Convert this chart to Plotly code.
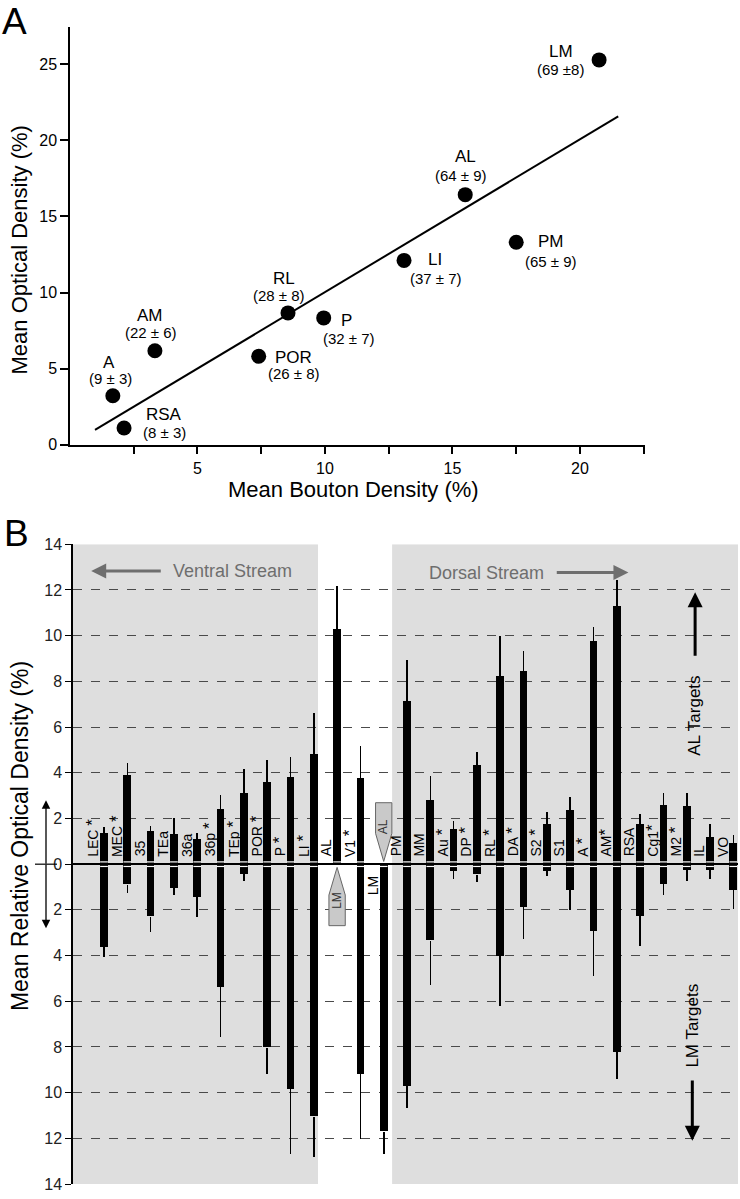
import plotly.graph_objects as go

# ---------------- Panel A data ----------------
areas_a = ["LM", "AL", "PM", "LI", "RL", "P", "POR", "AM", "A", "RSA"]
bouton_density = [20.75, 15.5, 17.5, 13.1, 8.55, 9.95, 7.4, 3.33, 1.68, 2.12]
optical_density = [25.28, 16.43, 13.3, 12.11, 8.66, 8.33, 5.81, 6.17, 3.22, 1.1]
neuron_counts = ["(69 ±8)", "(64 ± 9)", "(65 ± 9)", "(37 ± 7)", "(28 ± 8)",
                 "(32 ± 7)", "(26 ± 8)", "(22 ± 6)", "(9 ± 3)", "(8 ± 3)"]
fit_x = [0.98, 21.5]
fit_y = [0.97, 21.57]
a_xtick_vals = [2.5, 5, 7.5, 10, 12.5, 15, 17.5, 20, 22.5]
a_xtick_text = ["", "5", "", "10", "", "15", "", "20", ""]
a_ytick_vals = [0, 5, 10, 15, 20, 25]

# ---------------- Panel B data ----------------
regions = ["LEC *", "MEC *", "35", "TEa", "36a", "36p *", "TEp *", "POR *", "P *", "LI *",
           "AL", "V1 *", "LM", "PM", "MM", "Au *", "DP *", "RL *", "DA *", "S2 *",
           "S1", "A *", "AM*", "RSA", "Cg1*", "M2 *", "IL", "VO"]
al_targets = [1.35, 3.88, 1.42, 1.30, 1.10, 2.39, 3.12, 3.57, 3.81, 4.81,
              10.26, 3.75, None, 7.12, 2.81, 1.54, 4.31, 8.21, 8.46, 1.76,
              2.36, 9.76, 11.27, 1.76, 2.58, 2.52, 1.18, 0.90]
al_sem = [0.28, 0.57, 0.25, 0.70, 0.25, 0.64, 1.05, 0.97, 0.87, 1.79,
          1.92, 1.44, 0, 1.81, 1.04, 0.33, 0.62, 1.76, 0.86, 0.54,
          0.58, 0.64, 1.15, 0.42, 0.54, 0.59, 0.58, 0.36]
lm_targets = [3.63, 0.89, 2.29, 1.04, 1.44, 5.39, 0.42, 8.03, 9.83, 11.05,
              None, 9.18, 11.70, 9.71, 3.34, 0.32, 0.46, 4.03, 1.87, 0.29,
              1.14, 2.94, 8.21, 2.26, 0.86, 0.27, 0.27, 1.14]
lm_sem = [0.43, 0.36, 0.69, 0.33, 0.89, 2.17, 0.33, 1.17, 2.87, 1.77,
          0, 2.85, 1.00, 0.95, 1.95, 0.31, 0.32, 2.19, 1.40, 0.24,
          0.86, 1.94, 1.21, 1.34, 0.49, 0.45, 0.36, 0.83]
b_ytick_vals = list(range(-14, 15, 2))
b_ytick_text = [str(abs(v)) for v in b_ytick_vals]

REG = "Liberation Sans, Arial, Helvetica, sans-serif"
W, H = 740, 1199

fig = go.Figure()

# ---- Panel A traces
fig.add_trace(go.Scatter(x=fit_x, y=fit_y, mode="lines", line=dict(color="black", width=2),
                         xaxis="x", yaxis="y", showlegend=False, hoverinfo="skip"))
fig.add_trace(go.Scatter(x=bouton_density, y=optical_density, mode="markers",
                         marker=dict(size=15, color="black"), xaxis="x", yaxis="y",
                         showlegend=False, text=areas_a))

# ---- Panel B traces
pos = list(range(len(regions)))
BW = 0.33
fig.add_trace(go.Bar(x=pos, y=al_targets, width=BW, marker=dict(color="black", line=dict(width=0)),
                     error_y=dict(type="data", symmetric=False, array=al_sem,
                                  arrayminus=[0] * len(pos), color="black", thickness=1.6, width=0),
                     xaxis="x2", yaxis="y2", showlegend=False))
fig.add_trace(go.Bar(x=pos, y=[(-v if v is not None else None) for v in lm_targets], width=BW,
                     marker=dict(color="black", line=dict(width=0)),
                     error_y=dict(type="data", symmetric=False, array=[0] * len(pos),
                                  arrayminus=lm_sem, color="black", thickness=1.6, width=0),
                     xaxis="x2", yaxis="y2", showlegend=False))

# ---- layout
xA = [70 / W, 645 / W]
yA = [1 - 443 / H, 1 - 19 / H]
xB = [73 / W, 738 / W]
yB = [1 - 1193 / H, 1 - 544 / H]
xB_range = [-1.33, 27.2]

fig.update_layout(
    width=W, height=H, margin=dict(l=0, r=0, t=0, b=0),
    paper_bgcolor="white", plot_bgcolor="rgba(0,0,0,0)",
    barmode="overlay", bargap=0,
    xaxis=dict(domain=xA, range=[0, 22.55], anchor="y", showgrid=False, zeroline=False,
               showline=True, linecolor="black", linewidth=1.5, ticks="outside", ticklen=8,
               tickwidth=1.5, tickcolor="black", tickvals=a_xtick_vals, ticktext=a_xtick_text,
               tickfont=dict(family=REG, size=16, color="black")),
    yaxis=dict(domain=yA, range=[0, 27.46], anchor="x", showgrid=False, zeroline=False,
               showline=True, linecolor="black", linewidth=1.5, ticks="outside", ticklen=8,
               tickwidth=1.5, tickcolor="black", tickvals=a_ytick_vals,
               tickfont=dict(family=REG, size=16, color="black")),
    xaxis2=dict(domain=xB, range=xB_range, anchor="y2", showgrid=False, zeroline=False,
                showline=False, showticklabels=False, ticks=""),
    yaxis2=dict(domain=yB, range=[-14, 14], anchor="x2", showgrid=True, griddash="dash",
                gridcolor="#4a4a4a", gridwidth=1, zeroline=True, zerolinecolor="black",
                zerolinewidth=1.6, showline=True, linecolor="black", linewidth=1.5,
                ticks="outside", ticklen=6, tickwidth=1.2, tickcolor="black",
                tickvals=b_ytick_vals, ticktext=b_ytick_text,
                tickfont=dict(family=REG, size=16, color="#222")),
)

shapes = []
# grey background bands (ventral / dorsal)
shapes.append(dict(type="rect", xref="x2", yref="y2", x0=xB_range[0], x1=9.18, y0=-14, y1=14,
                   fillcolor="#dedede", line=dict(width=0), layer="below"))
shapes.append(dict(type="rect", xref="x2", yref="y2", x0=12.36, x1=xB_range[1], y0=-14, y1=14,
                   fillcolor="#dedede", line=dict(width=0), layer="below"))
# small white notches where bars cross the zero line
for i, (u, d) in enumerate(zip(al_targets, lm_targets)):
    for yy, v in ((0.1, u), (-0.1, d)):
        if v is not None:
            shapes.append(dict(type="line", xref="x2", yref="y2", x0=i - BW / 2, x1=i + BW / 2,
                               y0=yy, y1=yy, line=dict(color="white", width=1.2), layer="above"))
# injection-site arrows
shapes.append(dict(type="path", xref="x2", yref="y2",
                   path="M 11.65,2.69 L 12.35,2.69 L 12.35,1.35 L 12,0.12 L 11.65,1.35 Z",
                   fillcolor="#c9c9c9", line=dict(color="#666", width=1)))
shapes.append(dict(type="path", xref="x2", yref="y2",
                   path="M 9.65,-2.69 L 10.35,-2.69 L 10.35,-1.35 L 10,-0.14 L 9.65,-1.35 Z",
                   fillcolor="#c9c9c9", line=dict(color="#666", width=1)))
# left double-arrow crossbar
shapes.append(dict(type="line", xref="paper", yref="y2", x0=35 / W, x1=57 / W, y0=0, y1=0,
                   line=dict(color="black", width=1.2)))
fig.update_layout(shapes=shapes)

ann = []
# Panel letters
ann.append(dict(text="A", x=0, y=1 - 14 / H, xref="paper", yref="paper", xanchor="left",
                yanchor="middle", showarrow=False, font=dict(family=REG, size=37, color="black")))
ann.append(dict(text="B", x=2 / W, y=1 - 533 / H, xref="paper", yref="paper", xanchor="left",
                yanchor="middle", showarrow=False, font=dict(family=REG, size=37, color="black")))
# Panel A titles
ann.append(dict(text="Mean Optical Density (%)", x=20 / W, y=1 - 246 / H, xref="paper",
                yref="paper", xanchor="center", yanchor="middle", textangle=-90,
                showarrow=False, font=dict(family=REG, size=22, color="black")))
ann.append(dict(text="Mean Bouton Density (%)", x=353 / W, y=1 - 488 / H, xref="paper",
                yref="paper", xanchor="center", yanchor="middle", showarrow=False,
                font=dict(family=REG, size=22, color="black")))
# Panel A point labels (pixel offsets of name and count from the dot)
label_offsets = {
    "LM": ((-38, 8), (-39, -10)), "AL": ((0, 38), (-4, 19)), "PM": ((35, 1), (35, -19)),
    "LI": ((31, 1), (32, -18)), "RL": ((-4, 34), (-9, 17)), "P": ((23, -3), (25, -21)),
    "POR": ((35, -1), (35, -17)), "AM": ((-5, 35), (-4, 18)), "A": ((-4, 33), (-2, 17)),
    "RSA": ((40, 13), (40, -5)),
}
for name, bx, oy, cnt in zip(areas_a, bouton_density, optical_density, neuron_counts):
    (nx, ny), (cx, cy) = label_offsets[name]
    ann.append(dict(text=name, x=bx, y=oy, xref="x", yref="y", xshift=nx, yshift=ny,
                    showarrow=False, font=dict(family=REG, size=17, color="black")))
    ann.append(dict(text=cnt, x=bx, y=oy, xref="x", yref="y", xshift=cx, yshift=cy,
                    showarrow=False, font=dict(family=REG, size=15, color="black")))

# Panel B title
ann.append(dict(text="Mean Relative Optical Density (%)", x=20 / W, y=1 - 840 / H,
                xref="paper", yref="paper", xanchor="center", yanchor="middle", textangle=-90,
                showarrow=False, font=dict(family=REG, size=23, color="black")))
# double arrow on the left
for tip, off in ((2.8, 65), (-2.8, -65)):
    ann.append(dict(text="", x=46 / W, y=tip, xref="paper", yref="y2", ax=0, ay=off,
                    showarrow=True, arrowhead=2, arrowsize=1.3, arrowwidth=1.3,
                    arrowcolor="black"))
# region labels (asterisk drawn a little larger, as in the original figure)
STAR = "<span style='font-size:17px'>*</span>"
for i, lab in enumerate(regions):
    txt = lab.replace("*", STAR)
    if lab == "LM":
        ann.append(dict(text=txt, x=i - 0.45, y=-0.45, xref="x2", yref="y2", textangle=-90,
                        xanchor="center", yanchor="top", showarrow=False,
                        font=dict(family=REG, size=14, color="black")))
    else:
        ann.append(dict(text=txt, x=i - 0.47, y=0.24, xref="x2", yref="y2", textangle=-90,
                        xanchor="center", yanchor="bottom", showarrow=False,
                        font=dict(family=REG, size=14, color="black")))
# text inside injection arrows
ann.append(dict(text="AL", x=12, y=1.65, xref="x2", yref="y2", textangle=-90, showarrow=False,
                font=dict(family=REG, size=12, color="#333")))
ann.append(dict(text="LM", x=10, y=-1.6, xref="x2", yref="y2", textangle=-90, showarrow=False,
                font=dict(family=REG, size=12, color="#333")))
# stream annotations
GREY = "#6e6e6e"
ann.append(dict(text="Ventral Stream", x=5.5, y=12.83, xref="x2", yref="y2", showarrow=False,
                font=dict(family=REG, size=18, color=GREY)))
ann.append(dict(text="", x=-0.55, y=12.83, xref="x2", yref="y2", ax=2.5, ay=12.83,
                axref="x2", ayref="y2", showarrow=True, arrowhead=2, arrowsize=1,
                arrowwidth=3, arrowcolor=GREY))
ann.append(dict(text="Dorsal Stream", x=16.4, y=12.76, xref="x2", yref="y2", showarrow=False,
                font=dict(family=REG, size=18, color=GREY)))
ann.append(dict(text="", x=22.5, y=12.76, xref="x2", yref="y2", ax=19.36, ay=12.76,
                axref="x2", ayref="y2", showarrow=True, arrowhead=2, arrowsize=1,
                arrowwidth=3, arrowcolor=GREY))
# target annotations
ann.append(dict(text="AL Targets", x=25.36, y=6.5, xref="x2", yref="y2", textangle=-90,
                showarrow=False, font=dict(family=REG, size=17, color="black")))
ann.append(dict(text="", x=25.36, y=11.9, xref="x2", yref="y2", ax=25.36, ay=9.06,
                axref="x2", ayref="y2", showarrow=True, arrowhead=2, arrowsize=1,
                arrowwidth=3, arrowcolor="black"))
ann.append(dict(text="LM Targets", x=25.24, y=-7.05, xref="x2", yref="y2", textangle=-90,
                showarrow=False, font=dict(family=REG, size=17, color="black")))
ann.append(dict(text="", x=25.24, y=-12.1, xref="x2", yref="y2", ax=25.24, ay=-9.4,
                axref="x2", ayref="y2", showarrow=True, arrowhead=2, arrowsize=1,
                arrowwidth=3, arrowcolor="black"))

fig.update_layout(annotations=ann)
fig.write_html("out.html", config={"displayModeBar": False},
               post_script="document.body.style.margin='0px';"
                           "document.body.style.overflow='hidden';")
